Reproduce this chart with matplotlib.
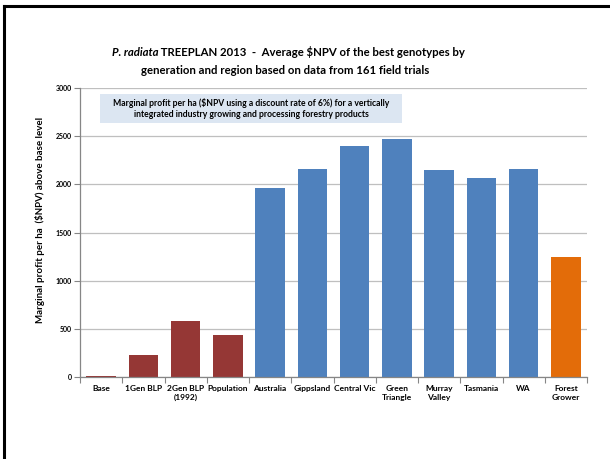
import matplotlib.pyplot as plt
from matplotlib.lines import Line2D
from matplotlib.patches import Rectangle

plt.rcParams['font.family'] = ['Lato', 'DejaVu Sans']

# Marginal $NPV per ha above base level, by generation and region
categories = ['Base', '1Gen BLP', '2Gen BLP\n(1992)', 'Population', 'Australia',
              'Gippsland', 'Central Vic', 'Green\nTriangle', 'Murray\nValley',
              'Tasmania', 'WA', 'Forest\nGrower']
npv = [10, 230, 580, 435, 1960, 2160, 2400, 2475, 2150, 2070, 2160, 1250]
groups = ['gen', 'gen', 'gen', 'gen', 'region', 'region', 'region', 'region',
          'region', 'region', 'region', 'grower']
group_colors = {'gen': '#953735', 'region': '#4F81BD', 'grower': '#E36C09'}
yticks = [0, 500, 1000, 1500, 2000, 2500, 3000]

fig = plt.figure(figsize=(6.1, 4.59), dpi=100)
ax = fig.add_axes([80 / 610, 1 - 377 / 459, 507 / 610, 289 / 459])

x = list(range(len(categories)))
ax.bar(x, npv, width=0.7, color=[group_colors[g] for g in groups], zorder=3)

ax.set_xlim(-0.5, len(categories) - 0.5)
ax.set_ylim(0, 3000)
ax.set_yticks(yticks)
ax.set_yticklabels([str(v) for v in yticks], fontsize=5, fontweight='bold')
ax.set_xticks(x)
ax.set_xticklabels(categories, fontsize=6, fontweight='bold', linespacing=1.3)
ax.tick_params(axis='x', length=0, pad=6)
ax.set_xticks([i - 0.5 for i in range(len(categories) + 1)], minor=True)
ax.tick_params(axis='x', which='minor', length=4, color='#868686', width=0.8)
ax.tick_params(axis='y', length=4, color='#868686', width=0.8, pad=2)
ax.grid(axis='y', color='#BFBFBF', lw=0.9, zorder=0)
for s in ['top', 'right']:
    ax.spines[s].set_visible(False)
for s in ['left', 'bottom']:
    ax.spines[s].set_color('#868686')
    ax.spines[s].set_linewidth(0.9)
ax.spines['bottom'].set_zorder(4)

ax.set_ylabel('Marginal profit per ha  (\\$NPV) above base level',
              fontsize=7, fontweight='bold')
ax.yaxis.set_label_coords(-0.069, 0.543)

# Two-line title; species name in italics
t1 = fig.text(112 / 610, 1 - 52 / 459, 'P. radiata', fontsize=8.2, fontweight='bold',
              style='italic', va='center', ha='left')
ax.annotate(' TREEPLAN 2013  -  Average \\$NPV of the best genotypes by',
            xy=(1, 0.5), xycoords=t1, va='center', ha='left',
            fontsize=8.2, fontweight='bold')
fig.text(285 / 610, 1 - 70 / 459, 'generation and region based on data from 161 field trials',
         fontsize=8.2, fontweight='bold', va='center', ha='center')

# Shaded note box
fig.patches.append(Rectangle((100 / 610, 1 - 123 / 459), 302 / 610, 29 / 459,
                             transform=fig.transFigure, facecolor='#DCE6F2',
                             edgecolor='none', zorder=5))
fig.text(251 / 610, 1 - 108.5 / 459,
         'Marginal profit per ha (\\$NPV using a discount rate of 6%) for a vertically\n'
         'integrated industry growing and processing forestry products',
         fontsize=6.2, fontweight='bold', ha='center', va='center',
         linespacing=1.35, zorder=6)

# Slide frame
fig.lines.append(Line2D([4 / 610, 4 / 610], [0, 1 - 5.5 / 459], transform=fig.transFigure,
                        color='black', lw=2.2))
fig.lines.append(Line2D([4 / 610, 1], [1 - 5.5 / 459, 1 - 5.5 / 459],
                        transform=fig.transFigure, color='black', lw=2.2))

fig.savefig('out.png', dpi=100)
